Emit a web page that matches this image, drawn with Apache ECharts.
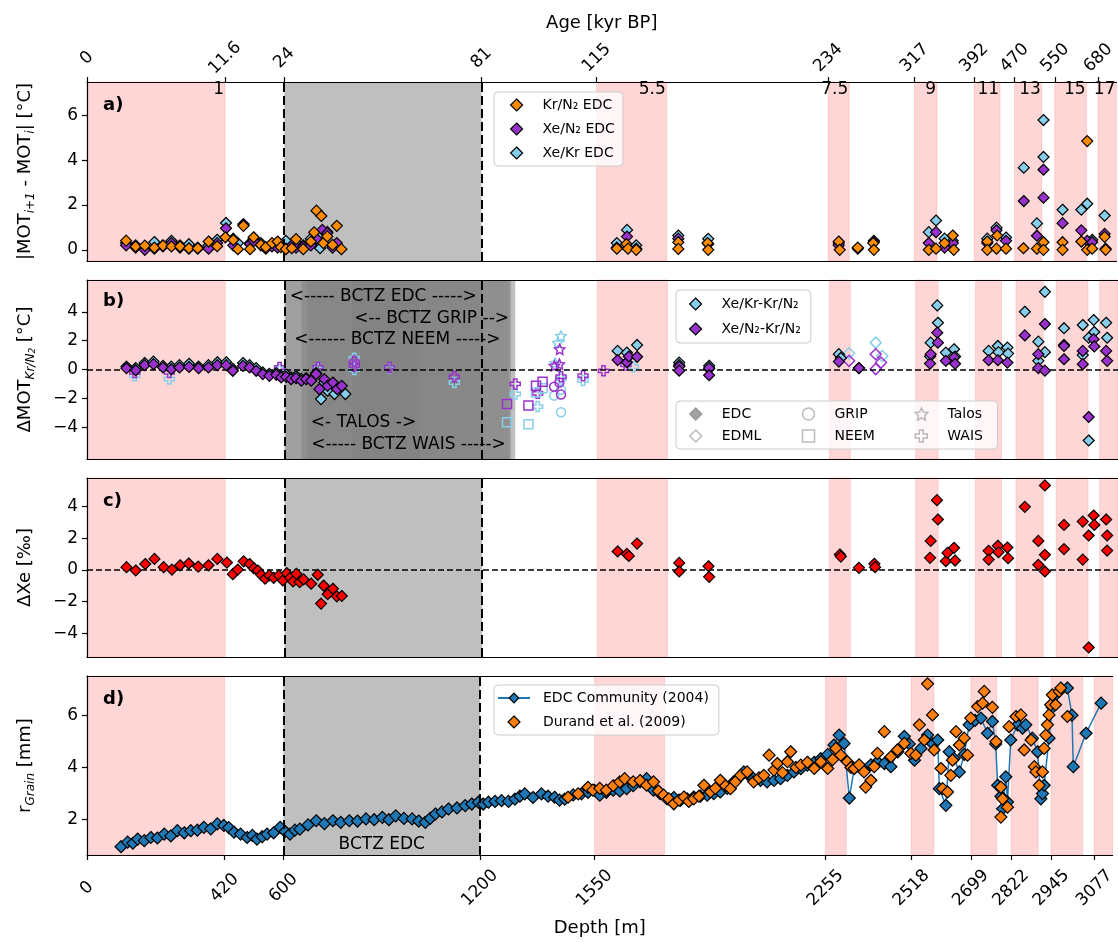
<!DOCTYPE html>
<html>
<head>
<meta charset="utf-8">
<script src="https://cdn.jsdelivr.net/npm/echarts@6/dist/echarts.min.js"></script>
<style>
  html, body { margin: 0; padding: 0; background: #fff; }
  #chart { width: 1118px; height: 942px; }
</style>
</head>
<body>
<div id="chart"></div>
<script>
// depth axis ticks and the matching ages on the top axis
const depthTicks = [0, 420, 600, 1200, 1550, 2255, 2518, 2699, 2822, 2945, 3077];
const ageLabels = ['0', '11.6', '24', '81', '115', '234', '317', '392', '470', '550', '680'];

// interglacial bands (MIS)
const bandStart = [0, 1550, 2255, 2517, 2699, 2822, 2944, 3076];
const bandEnd = [420, 1764, 2319, 2586, 2778, 2905, 3041, 3132];
const bandNames = ['1', '5.5', '7.5', '9', '11', '13', '15', '17'];

// bubble-clathrate transition zones (panel b)
const bctzStart = [600, 603, 652, 806, 670];
const bctzEnd = [1200, 1283, 1301, 1288, 1010];
const bctzText = ['<----- BCTZ EDC ----->', '<------ BCTZ NEEM ----->', '<----- BCTZ WAIS ----->',
  '<-- BCTZ GRIP -->', '<- TALOS ->'];

// a) |MOT(i+1) - MOT(i)|
const krN2EDC = [[119,0.41],[148,0.15],[176,0.19],[205,0.1],[231,0.19],[257,0.15],[283,0.15],[310,0.07],
  [337,0.07],[370,0.37],[396,0.16],[421,0.56],[445,0.44],[459,0.03],[476,1.07],[496,0.03],[507,0.56],
  [529,0.22],[544,0.12],[563,0.3],[580,0.37],[590,0.12],[605,0.03],[623,0.07],[636,0.48],[658,0.03],
  [681,0.37],[691,0.78],[698,1.75],[713,1.51],[719,0.3],[731,0.6],[747,0.22],[760,1.07],[774,0.03],
  [1612,0.05],[1641,0.26],[1646,0.05],[1671,0.0],[1799,0.34],[1799,0.04],[1888,0.3],[1890,0.0],
  [2287,0.37],[2290,0.0],[2345,0.1],[2392,0.3],[2394,0.0],[2561,0.0],[2583,0.05],[2609,0.3],[2634,0.64],
  [2637,0.0],[2739,0.37],[2739,0.0],[2767,0.05],[2769,0.64],[2796,0.05],[2849,0.07],[2890,0.05],
  [2910,0.34],[2910,0.0],[2968,0.34],[2968,0.0],[3025,0.37],[3043,4.86],[3043,0.0],[3058,0.05],
  [3096,0.58],[3099,0.0]];
const xeN2EDC = [[119,0.2],[148,0.1],[176,0.0],[205,0.05],[231,0.15],[257,0.3],[283,0.1],[310,0.05],
  [337,0.05],[370,0.05],[396,0.3],[423,0.96],[445,0.2],[476,1.15],[496,0.25],[507,0.4],[529,0.2],
  [544,0.05],[563,0.15],[580,0.1],[605,0.05],[623,0.2],[636,0.1],[658,0.15],[681,0.2],[698,0.5],
  [716,0.89],[731,0.75],[747,0.1],[760,0.3],
  [1612,0.1],[1643,0.59],[1671,0.05],[1799,0.5],[1890,0.26],[2287,0.2],[2345,0.05],[2394,0.35],
  [2561,0.3],[2583,0.79],[2609,0.1],[2634,0.3],[2739,0.3],[2767,0.87],[2796,0.4],[2850,2.18],
  [2890,0.63],[2910,2.33],[2910,3.58],[2968,1.19],[3025,0.87],[3043,0.4],[3058,0.34],[3096,0.71],
  [3099,0.05]];
const xeKrEDC = [[119,0.3],[148,0.2],[176,0.15],[205,0.35],[231,0.2],[257,0.4],[283,0.2],[310,0.25],
  [337,0.1],[370,0.2],[396,0.45],[423,1.2],[445,0.5],[459,0.3],[476,1.1],[496,0.3],[507,0.5],[529,0.3],
  [563,0.2],[580,0.3],[605,0.4],[623,0.1],[636,0.3],[658,0.2],[681,0.5],[698,0.6],[709,0.07],[716,0.7],
  [731,0.8],[747,0.2],
  [1612,0.3],[1643,0.89],[1671,0.2],[1799,0.64],[1890,0.49],[2287,0.3],[2394,0.4],[2561,0.79],
  [2583,1.31],[2609,0.5],[2634,0.4],[2739,0.5],[2767,0.99],[2796,0.55],[2850,3.67],[2890,1.18],
  [2910,5.8],[2910,4.15],[2968,1.79],[3025,1.79],[3043,2.06],[3058,0.45],[3096,1.53]];

// b) dMOT relative to Kr/N2, EDC filled diamonds
const xeKrMinusKrN2 = [[120,0.2],[148,0.1],[175,0.45],[202,0.55],[231,0.25],[256,0.2],[281,0.3],[310,0.4],
  [339,0.2],[369,0.3],[396,0.5],[423,0.5],[443,0.05],[474,0.45],[494,0.3],[514,0.1],[534,-0.2],[554,-0.3],
  [575,-0.25],[590,-0.45],[605,-0.35],[620,-0.55],[635,-0.45],[651,-0.65],[666,-0.6],[681,-0.7],
  [696,-0.25],[711,-2.05],[721,-0.9],[731,-1.47],[752,-1.7],[760,-1.2],[785,-1.7],
  [1612,1.29],[1640,1.17],[1671,1.7],[1799,0.48],[1799,0.3],[1890,0.26],[1890,0.05],[2284,1.06],
  [2290,0.8],[2345,0.1],[2561,0.9],[2563,1.86],[2583,4.44],[2585,3.24],[2609,1.17],[2634,1.4],
  [2637,0.9],[2739,1.29],[2767,1.63],[2769,1.2],[2796,1.52],[2798,1.1],[2849,4.0],[2890,1.93],
  [2890,0.6],[2910,5.38],[2910,1.2],[2968,2.86],[2968,1.7],[3025,3.08],[3025,1.0],[3043,-4.92],
  [3043,2.2],[3058,3.43],[3060,2.6],[3096,3.24],[3099,2.2]];
const xeN2MinusKrN2 = [[120,0.09],[148,-0.05],[175,0.3],[202,0.37],[231,0.14],[256,0.02],[281,0.14],
  [310,0.18],[339,0.09],[369,0.14],[396,0.3],[423,0.3],[443,-0.09],[474,0.25],[494,0.14],[514,-0.09],
  [534,-0.32],[554,-0.44],[575,-0.37],[590,-0.55],[605,-0.51],[620,-0.67],[635,-0.6],[651,-0.78],
  [666,-0.67],[681,-0.78],[696,-0.32],[706,-1.36],[721,-0.67],[731,-1.13],[747,-0.9],[760,-1.36],
  [774,-1.13],
  [1612,0.65],[1640,0.5],[1646,0.9],[1671,0.88],[1799,0.2],[1799,-0.08],[1890,0.1],[1890,-0.4],
  [2284,0.55],[2345,0.1],[2561,0.41],[2563,1.06],[2583,2.55],[2585,1.86],[2609,0.6],[2634,0.83],
  [2637,0.4],[2739,0.64],[2767,0.64],[2796,0.48],[2849,2.36],[2890,1.06],[2890,0.1],[2910,3.15],
  [2910,-0.08],[2968,1.63],[2968,0.71],[3025,1.29],[3025,0.37],[3043,-3.29],[3058,2.1],[3060,1.6],
  [3096,1.29],[3099,0.6]];

// b) other cores, open markers (Kr = Xe/Kr-Kr/N2, N2 = Xe/N2-Kr/N2)
const edmlKr = [[2315,1.13],[2396,1.86],[2416,0.94]];
const edmlN2 = [[2315,0.6],[2396,1.06],[2412,0.48],[2396,0.03]];
const gripKr = [[1419,-1.81],[1440,-2.96],[1440,-1.4]];
const gripN2 = [[1419,-1.19],[1440,-1.74],[1435,-0.9]];
const neemKr = [[1276,-3.65],[1341,-3.8],[1364,-1.6],[1384,-1.3]];
const neemN2 = [[1276,-2.39],[1341,-2.5],[1364,-1.12],[1384,-0.85]];
const talosKr = [[1440,2.32],[1430,1.86],[1422,0.45]];
const talosN2 = [[1436,1.4],[1435,0.37],[1420,0.26]];
const waisKr = [[145,-0.44],[250,-0.66],[585,0.0],[702,0.05],[812,0.78],[812,0.0],[919,0.1],[1116,-0.9],
  [1301,-1.7],[1369,-2.57],[1440,-0.65],[1507,-0.76],[1660,0.19]];
const waisN2 = [[145,-0.2],[250,-0.2],[585,0.14],[702,0.14],[812,0.55],[812,0.25],[919,0.14],[1116,-0.5],
  [1301,-1.0],[1369,-1.65],[1440,-0.5],[1507,-0.43],[1569,-0.09],[1637,0.32]];

// c) dXe
const deltaXe = [[120,0.17],[148,-0.04],[177,0.37],[205,0.69],[233,0.17],[258,0.02],[283,0.29],[309,0.4],
  [338,0.21],[369,0.29],[396,0.69],[425,0.46],[443,-0.27],[458,0.02],[476,0.54],[494,0.37],[507,0.1],
  [519,-0.04],[529,-0.31],[541,-0.56],[554,-0.35],[567,-0.5],[583,-0.35],[595,-0.67],[607,-0.21],
  [617,-0.5],[626,-0.73],[636,-0.25],[646,-0.77],[658,-0.6],[681,-0.87],[701,-0.31],[711,-2.13],
  [719,-1.0],[731,-1.54],[747,-1.19],[759,-1.67],[774,-1.65],
  [1612,1.16],[1640,1.01],[1646,0.88],[1671,1.66],[1799,0.44],[1799,-0.1],[1888,0.23],[1890,-0.44],
  [2287,0.97],[2290,0.84],[2345,0.13],[2392,0.38],[2394,0.17],[2561,0.76],[2563,1.83],[2582,4.4],
  [2585,3.18],[2609,0.55],[2614,1.07],[2634,1.39],[2637,0.59],[2739,1.2],[2739,0.65],[2767,1.52],
  [2769,1.12],[2796,1.41],[2798,0.74],[2849,3.98],[2890,1.83],[2890,0.32],[2910,5.33],[2910,0.95],
  [2910,-0.1],[2968,2.84],[2968,1.31],[3025,3.05],[3025,0.65],[3043,2.17],[3043,-4.9],[3058,3.43],
  [3060,2.84],[3096,3.18],[3099,2.17],[3099,1.22]];

// d) grain radius
const edcCommunity = [[104,0.97],[124,1.14],[140,1.1],[155,1.26],[175,1.2],[195,1.32],[215,1.3],[236,1.45],
  [256,1.38],[276,1.58],[297,1.5],[317,1.58],[337,1.6],[357,1.71],[378,1.65],[398,1.84],[418,1.78],
  [433,1.7],[449,1.52],[469,1.45],[489,1.32],[505,1.4],[519,1.26],[535,1.35],[550,1.45],[570,1.5],
  [590,1.71],[605,1.55],[620,1.45],[635,1.6],[650,1.64],[675,1.8],[700,1.96],[725,1.85],[751,1.96],
  [775,1.9],[801,1.96],[826,1.95],[852,2.03],[877,2.0],[902,2.09],[922,2.0],[943,2.15],[968,2.05],
  [993,2.03],[1013,1.95],[1033,1.9],[1048,2.05],[1064,2.22],[1084,2.3],[1104,2.41],[1130,2.45],
  [1155,2.54],[1175,2.6],[1195,2.67],[1210,2.6],[1226,2.67],[1246,2.7],[1266,2.73],[1287,2.7],
  [1307,2.79],[1322,2.9],[1337,2.99],[1362,2.85],[1388,2.99],[1408,2.9],[1428,2.86],[1443,2.75],
  [1459,2.79],[1485,2.95],[1510,2.99],[1530,3.05],[1550,3.12],[1566,2.94],[1586,3.05],[1607,3.13],
  [1627,3.1],[1648,3.19],[1668,3.3],[1689,3.45],[1709,3.57],[1730,3.13],[1750,3.0],[1771,2.8],
  [1792,2.85],[1812,2.74],[1833,2.8],[1853,2.87],[1873,2.9],[1894,2.94],[1914,3.0],[1934,3.06],
  [1955,3.2],[1975,3.45],[1990,3.6],[2006,3.83],[2021,3.7],[2036,3.57],[2057,3.5],[2077,3.45],
  [2098,3.5],[2118,3.57],[2139,3.7],[2159,3.83],[2180,3.95],[2200,4.09],[2221,4.2],[2241,4.34],
  [2262,4.5],[2281,4.86],[2297,5.24],[2312,4.92],[2328,2.83],[2343,3.96],[2358,4.05],[2373,3.9],
  [2394,4.1],[2414,4.22],[2435,4.15],[2455,4.03],[2476,4.6],[2496,5.19],[2511,4.9],[2527,4.28],
  [2547,4.73],[2567,5.24],[2583,4.9],[2598,5.05],[2603,3.19],[2623,2.55],[2633,4.6],[2648,4.34],
  [2664,3.83],[2679,4.5],[2694,5.63],[2712,5.8],[2730,5.89],[2750,5.31],[2765,5.76],[2775,4.9],
  [2781,3.32],[2791,2.9],[2796,2.42],[2806,3.64],[2811,2.68],[2821,5.05],[2842,5.63],[2857,5.5],
  [2867,5.63],[2887,5.12],[2903,4.6],[2913,2.8],[2918,3.0],[2923,3.32],[2938,5.12],[2948,6.3],
  [2953,6.72],[2994,7.04],[3008,6.0],[3012,4.03],[3051,5.31],[3097,6.46]];
const durand2009 = [[1469,2.86],[1500,2.99],[1530,3.24],[1545,3.13],[1566,3.2],[1586,3.13],[1607,3.3],
  [1627,3.45],[1642,3.57],[1668,3.45],[1689,3.5],[1709,3.32],[1730,3.45],[1745,3.1],[1761,2.94],
  [1777,2.8],[1792,2.61],[1808,2.75],[1823,2.87],[1838,2.7],[1853,2.8],[1869,2.9],[1884,3.32],
  [1904,3.06],[1919,3.2],[1934,3.51],[1950,3.3],[1965,3.19],[1980,3.45],[1996,3.7],[2016,3.83],
  [2036,3.45],[2052,3.6],[2067,3.7],[2083,4.47],[2098,3.9],[2108,4.15],[2124,3.8],[2139,4.22],
  [2149,4.6],[2165,4.0],[2180,4.09],[2200,4.2],[2221,3.96],[2241,4.22],[2262,3.96],[2277,4.3],
  [2287,4.73],[2302,4.47],[2322,4.22],[2333,4.0],[2343,3.96],[2358,4.1],[2373,3.83],[2378,3.25],
  [2394,3.51],[2404,4.03],[2414,4.54],[2435,5.37],[2455,4.41],[2475,4.67],[2496,4.92],[2516,4.54],
  [2531,4.47],[2542,5.63],[2557,5.05],[2567,7.2],[2582,6.01],[2587,4.67],[2608,3.96],[2613,3.19],
  [2628,3.06],[2638,3.7],[2643,4.28],[2654,5.37],[2664,4.86],[2679,5.12],[2689,4.47],[2699,5.89],
  [2720,6.33],[2735,6.46],[2740,6.91],[2765,6.3],[2776,4.99],[2791,3.25],[2796,2.8],[2791,2.1],
  [2811,2.48],[2816,5.56],[2837,5.95],[2852,6.01],[2862,4.67],[2883,5.05],[2893,4.03],[2898,3.83],
  [2908,3.32],[2918,3.83],[2923,4.73],[2928,5.24],[2933,5.63],[2938,6.01],[2943,6.4],[2948,6.78],
  [2958,6.4],[2969,6.91],[2974,7.04],[2994,5.95]];

const X_MAX = 3132;
const FONT = 'DejaVu Sans';
const ORANGE = '#ff8c00', PURPLE = '#9932cc', SKY = '#87ceeb', RED = '#ff0000';
const STAR = 'path://M0,-10L2.9,-4L9.5,-3.1L4.7,1.5L5.9,8.1L0,5L-5.9,8.1L-4.7,1.5L-9.5,-3.1L-2.9,-4Z';
const PLUS = 'path://M-1,-3L1,-3L1,-1L3,-1L3,1L1,1L1,3L-1,3L-1,1L-3,1L-3,-1L-1,-1Z';
// legend icons: path symbols keep their aspect, built-in ones get stretched
const DIAMOND_ICON = 'path://M0,-1L1,0L0,1L-1,0Z';
const SQUARE_ICON = 'path://M-1,-1L1,-1L1,1L-1,1Z';

const chart = echarts.init(document.getElementById('chart'));

const minus = (v) => (v < 0 ? '\u2212' + Math.abs(v) : String(v));
const axisLineStyle = { color: '#000', width: 1.2 };

function frameAxis(gi, position) {
  return {
    type: 'value', gridIndex: gi, position, min: 0, max: X_MAX, z: 10,
    axisLine: { show: true, onZero: false, lineStyle: axisLineStyle },
    axisTick: { show: false }, axisLabel: { show: false }, splitLine: { show: false },
  };
}

const xAxes = [];
for (let gi = 0; gi < 4; gi++) {
  xAxes.push(frameAxis(gi, 'bottom'), frameAxis(gi, 'top'));
}
// top axis of panel a: age
Object.assign(xAxes[1], {
  name: 'Age [kyr BP]', nameLocation: 'middle', nameGap: 50,
  nameTextStyle: { fontSize: 18, color: '#000', fontFamily: FONT },
  axisTick: { show: true, length: 5, customValues: depthTicks, lineStyle: axisLineStyle },
  axisLabel: {
    show: true, customValues: depthTicks, rotate: -45, align: 'center', verticalAlign: 'middle',
    margin: 24, fontSize: 17, color: '#000', fontFamily: FONT,
    formatter: (v) => ageLabels[depthTicks.indexOf(v)],
  },
});
// bottom axis of panel d: depth
Object.assign(xAxes[6], {
  name: 'Depth [m]', nameLocation: 'middle', nameGap: 64,
  nameTextStyle: { fontSize: 18, color: '#000', fontFamily: FONT, verticalAlign: 'top' },
  axisTick: { show: true, length: 5, customValues: depthTicks, lineStyle: axisLineStyle },
  axisLabel: {
    show: true, customValues: depthTicks, rotate: 45, align: 'center', verticalAlign: 'middle',
    margin: 33, fontSize: 17, color: '#000', fontFamily: FONT, formatter: (v) => String(v),
  },
});

const nameRich = {
  n: { fontSize: 18, lineHeight: 24, color: '#000', fontFamily: FONT },
  s: { fontSize: 12, lineHeight: 12, color: '#000', fontFamily: FONT, fontStyle: 'italic', verticalAlign: 'bottom' },
  ss: { fontSize: 9, lineHeight: 8, color: '#000', fontFamily: FONT, fontStyle: 'italic', verticalAlign: 'bottom' },
};

function yAxis(gi, min, max, ticks, name) {
  return {
    type: 'value', gridIndex: gi, min, max, z: 10,
    axisLine: { show: true, lineStyle: axisLineStyle },
    axisTick: { show: true, length: 5, customValues: ticks, lineStyle: axisLineStyle },
    axisLabel: { customValues: ticks, fontSize: 17, color: '#000', fontFamily: FONT, margin: 9, formatter: minus },
    splitLine: { show: false },
    name, nameLocation: 'middle', nameRotate: 90, nameGap: 50,
    nameTextStyle: { rich: nameRich },
  };
}

const yAxes = [
  yAxis(0, -0.5, 7.5, [0, 2, 4, 6], '{n||MOT}{s|i+1}{n| - MOT}{s|i}{n|| [°C]}'),
  yAxis(1, -6.2, 6.2, [-4, -2, 0, 2, 4], '{n|ΔMOT}{s|Kr/N}{ss|2}{n| [°C]}'),
  yAxis(2, -5.5, 5.8, [-4, -2, 0, 2, 4], '{n|ΔXe [‰]}'),
  yAxis(3, 0.65, 7.5, [2, 4, 6], '{n|r}{s|Grain}{n| [mm]}'),
];

const gridTops = [82, 280, 478, 676];
const grids = gridTops.map((top) => ({ left: 87, top, width: 1032, height: 179 }));

// ---- background shading, guides and annotations ----
const pinkAreas = bandStart.map((s, i) => [
  { xAxis: s, itemStyle: { color: 'rgba(255,0,0,0.16)', borderColor: 'rgba(255,0,0,0.12)', borderWidth: 1 } },
  { xAxis: bandEnd[i] },
]);
const grayStyle = { color: 'rgba(128,128,128,0.5)' };

function shading(gi, grayIdx) {
  const gray = grayIdx.map((k) => [{ xAxis: bctzStart[k], itemStyle: grayStyle }, { xAxis: bctzEnd[k] }]);
  return {
    type: 'scatter', xAxisIndex: gi * 2, yAxisIndex: gi, data: [], silent: true, z: 1,
    markArea: { silent: true, data: pinkAreas.concat(gray) },
  };
}

function guides(gi, zero) {
  const data = [bctzStart[0], bctzEnd[0]].map((x) => ({
    xAxis: x, lineStyle: { type: [9, 4], width: 2, color: '#000' },
  }));
  if (zero) data.push({ yAxis: 0, lineStyle: { type: [6, 3], width: 1.5, color: '#000' } });
  return {
    type: 'scatter', xAxisIndex: gi * 2, yAxisIndex: gi, data: [], silent: true, z: 2,
    markLine: { silent: true, symbol: 'none', label: { show: false }, data },
  };
}

const labelText = { show: true, color: '#000', fontSize: 17, fontFamily: FONT, formatter: '{b}' };
function annotations(gi, items) {
  return {
    type: 'scatter', xAxisIndex: gi * 2, yAxisIndex: gi, data: [], silent: true, z: 8,
    markArea: { silent: true, itemStyle: { color: 'rgba(0,0,0,0)' }, data: items },
  };
}

const misLabels = bandStart.map((s, i) => [
  { xAxis: s, name: bandNames[i],
    label: Object.assign({}, labelText, { position: 'insideTopRight', distance: 1, offset: [0, -2] }) },
  { xAxis: bandEnd[i] },
]);
const bctzPos = [
  { position: 'insideTop', distance: 8 },
  { position: 'insideTop', distance: 51 },
  { position: 'insideBottom', distance: 6 },
  { position: 'insideTop', distance: 30 },
  { position: 'insideBottom', distance: 28 },
];
const bctzLabels = bctzText.map((t, k) => [
  { xAxis: bctzStart[k], name: t, label: Object.assign({}, labelText, bctzPos[k]) },
  { xAxis: bctzEnd[k] },
]);
const bctzEdcLabel = [[
  { xAxis: bctzStart[0], name: 'BCTZ EDC',
    label: Object.assign({}, labelText, { position: 'insideBottom', distance: 2 }) },
  { xAxis: bctzEnd[0] },
]];

// ---- data series ----
function diamonds(name, gi, data, fill, z, size) {
  return {
    name, type: 'scatter', xAxisIndex: gi * 2, yAxisIndex: gi, data, z,
    symbol: 'diamond', symbolSize: size || 11,
    itemStyle: { color: fill, borderColor: '#000', borderWidth: 1.2, opacity: 1 },
  };
}
function hollow(name, data, symbol, color, size) {
  return {
    name, type: 'scatter', xAxisIndex: 2, yAxisIndex: 1, data, symbol, symbolSize: size, z: 4,
    itemStyle: { color: 'rgba(0,0,0,0)', borderColor: color, borderWidth: 1.5, opacity: 1 },
  };
}
function keyOnly(name, symbol, filled) {
  return {
    name, type: 'scatter', xAxisIndex: 2, yAxisIndex: 1, data: [], symbol, symbolSize: 10,
    itemStyle: { color: filled ? '#8c8c8c' : 'rgba(0,0,0,0)', borderColor: filled ? '#8c8c8c' : '#aaaaaa', borderWidth: 1.5 },
  };
}

const series = [
  shading(0, [0]), guides(0, false), annotations(0, misLabels),
  diamonds('Xe/Kr EDC', 0, xeKrEDC, SKY, 3),
  diamonds('Xe/N₂ EDC', 0, xeN2EDC, PURPLE, 4),
  diamonds('Kr/N₂ EDC', 0, krN2EDC, ORANGE, 5),

  shading(1, [0, 1, 2, 3, 4]), guides(1, true), annotations(1, bctzLabels),
  hollow('WAIS Xe/Kr', waisKr, PLUS, SKY, 10), hollow('WAIS Xe/N2', waisN2, PLUS, PURPLE, 10),
  hollow('NEEM Xe/Kr', neemKr, 'rect', SKY, 9), hollow('NEEM Xe/N2', neemN2, 'rect', PURPLE, 9),
  hollow('GRIP Xe/Kr', gripKr, 'circle', SKY, 9), hollow('GRIP Xe/N2', gripN2, 'circle', PURPLE, 9),
  hollow('Talos Xe/Kr', talosKr, STAR, SKY, 10), hollow('Talos Xe/N2', talosN2, STAR, PURPLE, 10),
  hollow('EDML Xe/Kr', edmlKr, 'diamond', SKY, 11), hollow('EDML Xe/N2', edmlN2, 'diamond', PURPLE, 11),
  diamonds('Xe/Kr-Kr/N₂', 1, xeKrMinusKrN2, SKY, 5),
  diamonds('Xe/N₂-Kr/N₂', 1, xeN2MinusKrN2, PURPLE, 6),
  keyOnly('EDC', 'diamond', true), keyOnly('EDML', 'diamond', false), keyOnly('GRIP', 'circle', false),
  keyOnly('NEEM', 'rect', false), keyOnly('Talos', STAR, false), keyOnly('WAIS', PLUS, false),

  shading(2, [0]), guides(2, true),
  diamonds('ΔXe', 2, deltaXe, RED, 5),

  shading(3, [0]), guides(3, false), annotations(3, bctzEdcLabel),
  {
    name: 'EDC Community (2004)', type: 'line', xAxisIndex: 6, yAxisIndex: 3, data: edcCommunity, z: 4,
    symbol: 'diamond', symbolSize: 12, showSymbol: true,
    lineStyle: { color: '#1f77b4', width: 1.5 },
    itemStyle: { color: '#1f77b4', borderColor: '#000', borderWidth: 1.2 },
  },
  diamonds('Durand et al. (2009)', 3, durand2009, '#ff7f0e', 5, 12),
];

const legendBase = {
  orient: 'vertical', itemWidth: 30, itemHeight: 12, itemGap: 10, selectedMode: false,
  symbolKeepAspect: true,
  backgroundColor: 'rgba(255,255,255,0.8)', borderColor: '#cccccc', borderWidth: 1, borderRadius: 4,
  textStyle: { fontSize: 14, color: '#000', fontFamily: FONT, padding: [0, 0, 0, 6] },
  itemStyle: { borderWidth: 1.2 },
};
const withIcon = (name, icon, extra) => Object.assign({ name, icon }, extra);

const legends = [
  Object.assign({}, legendBase, {
    left: 494, top: 92, padding: [6, 8, 6, 16],
    data: ['Kr/N₂ EDC', 'Xe/N₂ EDC', 'Xe/Kr EDC'].map((n) => withIcon(n, DIAMOND_ICON)),
  }),
  Object.assign({}, legendBase, {
    left: 676, top: 290, itemGap: 11, padding: [7, 10, 7, 13],
    data: ['Xe/Kr-Kr/N₂', 'Xe/N₂-Kr/N₂'].map((n) => withIcon(n, DIAMOND_ICON)),
  }),
  Object.assign({}, legendBase, {
    orient: 'horizontal', left: 676, top: 401, width: 360, itemGap: 8, padding: [6, 10, 6, 13],
    itemStyle: { borderWidth: 1.5 },
    textStyle: { fontSize: 14, color: '#000', fontFamily: FONT, padding: [0, 0, 0, 6], width: 72, lineHeight: 14 },
    data: [
      withIcon('EDC', DIAMOND_ICON), withIcon('GRIP', 'circle'),
      withIcon('Talos', STAR, { textStyle: { width: 40 } }),
      withIcon('EDML', DIAMOND_ICON), withIcon('NEEM', SQUARE_ICON),
      withIcon('WAIS', PLUS, { textStyle: { width: 40 } }),
    ],
  }),
  Object.assign({}, legendBase, {
    left: 494, top: 685, itemWidth: 32, padding: [6, 10, 6, 3],
    textStyle: { fontSize: 14, color: '#000', fontFamily: FONT, padding: [0, 0, 0, 8] },
    data: ['EDC Community (2004)', withIcon('Durand et al. (2009)', DIAMOND_ICON)],
  }),
];

const panelTitles = ['a)', 'b)', 'c)', 'd)'].map((t, i) => ({
  text: t, left: 103, top: [96, 292, 492, 690][i], padding: 0,
  textStyle: { fontSize: 18, fontWeight: 'bold', color: '#000', fontFamily: FONT },
}));

chart.setOption({
  animation: false,
  backgroundColor: '#fff',
  textStyle: { fontFamily: FONT },
  title: panelTitles,
  legend: legends,
  grid: grids,
  xAxis: xAxes,
  yAxis: yAxes,
  series,
});
</script>
</body>
</html>
